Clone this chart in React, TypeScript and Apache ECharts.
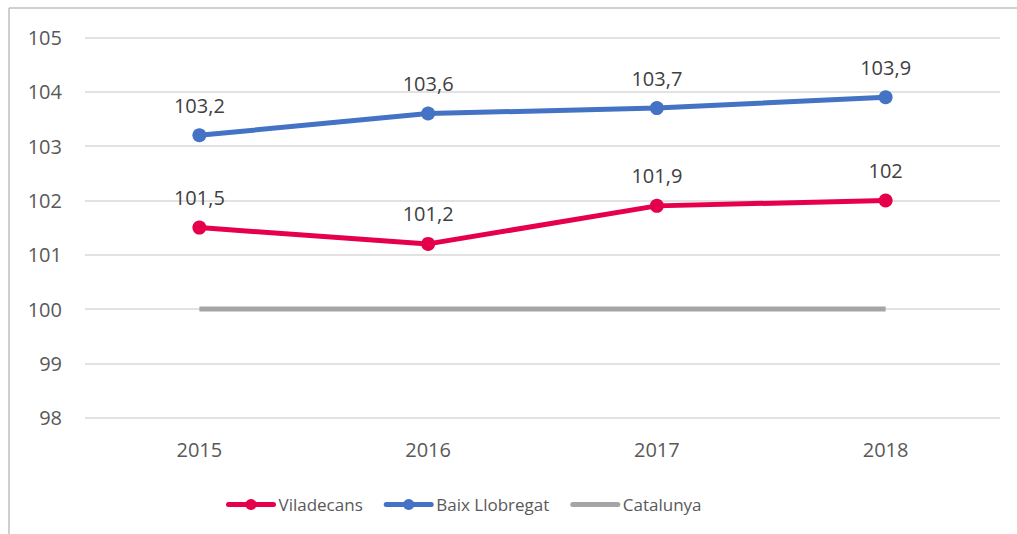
import React, { useEffect, useRef } from "react";
import * as echarts from "echarts";

const years = ["2015", "2016", "2017", "2018"];
const viladecans = [101.5, 101.2, 101.9, 102];
const baixLlobregat = [103.2, 103.6, 103.7, 103.9];
const catalunya = [100, 100, 100, 100];

const fmt = (v: number) => String(v).replace(".", ",");

export default function App() {
  const ref = useRef<HTMLDivElement>(null);
  useEffect(() => {
    if (!ref.current) return;
    const chart = echarts.init(ref.current, undefined, { renderer: "svg" });
    const font = "'Open Sans', sans-serif";
    const labelCfg = {
      show: true,
      position: "top" as const,
      distance: 13,
      color: "#404040",
      fontSize: 20,
      fontFamily: font,
      formatter: (p: any) => fmt(p.value),
    };
    chart.setOption({
      animation: false,
      backgroundColor: "#ffffff",
      textStyle: { fontFamily: font },
      grid: { left: 85, right: 17, top: 37.5, bottom: 116.3, containLabel: false },
      xAxis: {
        type: "category",
        data: years,
        boundaryGap: true,
        axisLine: { show: false },
        axisTick: { show: false },
        axisLabel: { color: "#595959", fontSize: 20, fontFamily: font, margin: 22 },
      },
      yAxis: {
        type: "value",
        min: 98,
        max: 105,
        interval: 1,
        axisLine: { show: false },
        axisTick: { show: false },
        axisLabel: { color: "#595959", fontSize: 20, fontFamily: font, margin: 23 },
        splitLine: { lineStyle: { color: "#D9D9D9", width: 1.5 } },
      },
      legend: {
        left: 221,
        top: 491,
        itemWidth: 45,
        itemHeight: 14,
        itemGap: 21,
        lineStyle: { width: 5, cap: "round" },
        textStyle: { color: "#595959", fontSize: 17, fontFamily: font },
        data: [
          "Viladecans",
          "Baix Llobregat",
          { name: "Catalunya", itemStyle: { opacity: 0 } },
        ],
      },
      series: [
        {
          name: "Viladecans",
          type: "line",
          data: viladecans,
          color: "#E6004C",
          lineStyle: { width: 5, color: "#E6004C" },
          itemStyle: { color: "#E6004C" },
          symbol: "circle",
          symbolSize: 14,
          label: labelCfg,
        },
        {
          name: "Baix Llobregat",
          type: "line",
          data: baixLlobregat,
          color: "#4472C4",
          lineStyle: { width: 5, color: "#4472C4" },
          itemStyle: { color: "#4472C4" },
          symbol: "circle",
          symbolSize: 14,
          label: labelCfg,
        },
        {
          name: "Catalunya",
          type: "line",
          data: catalunya,
          color: "#A5A5A5",
          lineStyle: { width: 5, color: "#A5A5A5" },
          itemStyle: { color: "#A5A5A5" },
          symbol: "none",
        },
      ],
      graphic: [
        {
          type: "line",
          shape: { x1: 9, y1: 8, x2: 9, y2: 534 },
          style: { stroke: "#BFBFBF", lineWidth: 1.5 },
          silent: true,
        },
        {
          type: "line",
          shape: { x1: 9, y1: 8, x2: 1017, y2: 8 },
          style: { stroke: "#BFBFBF", lineWidth: 1.5 },
          silent: true,
        },
      ],
    });
    return () => chart.dispose();
  }, []);
  return (
    <div
      ref={ref}
      style={{ position: "fixed", left: 0, top: 0, width: 1017, height: 534 }}
    />
  );
}
